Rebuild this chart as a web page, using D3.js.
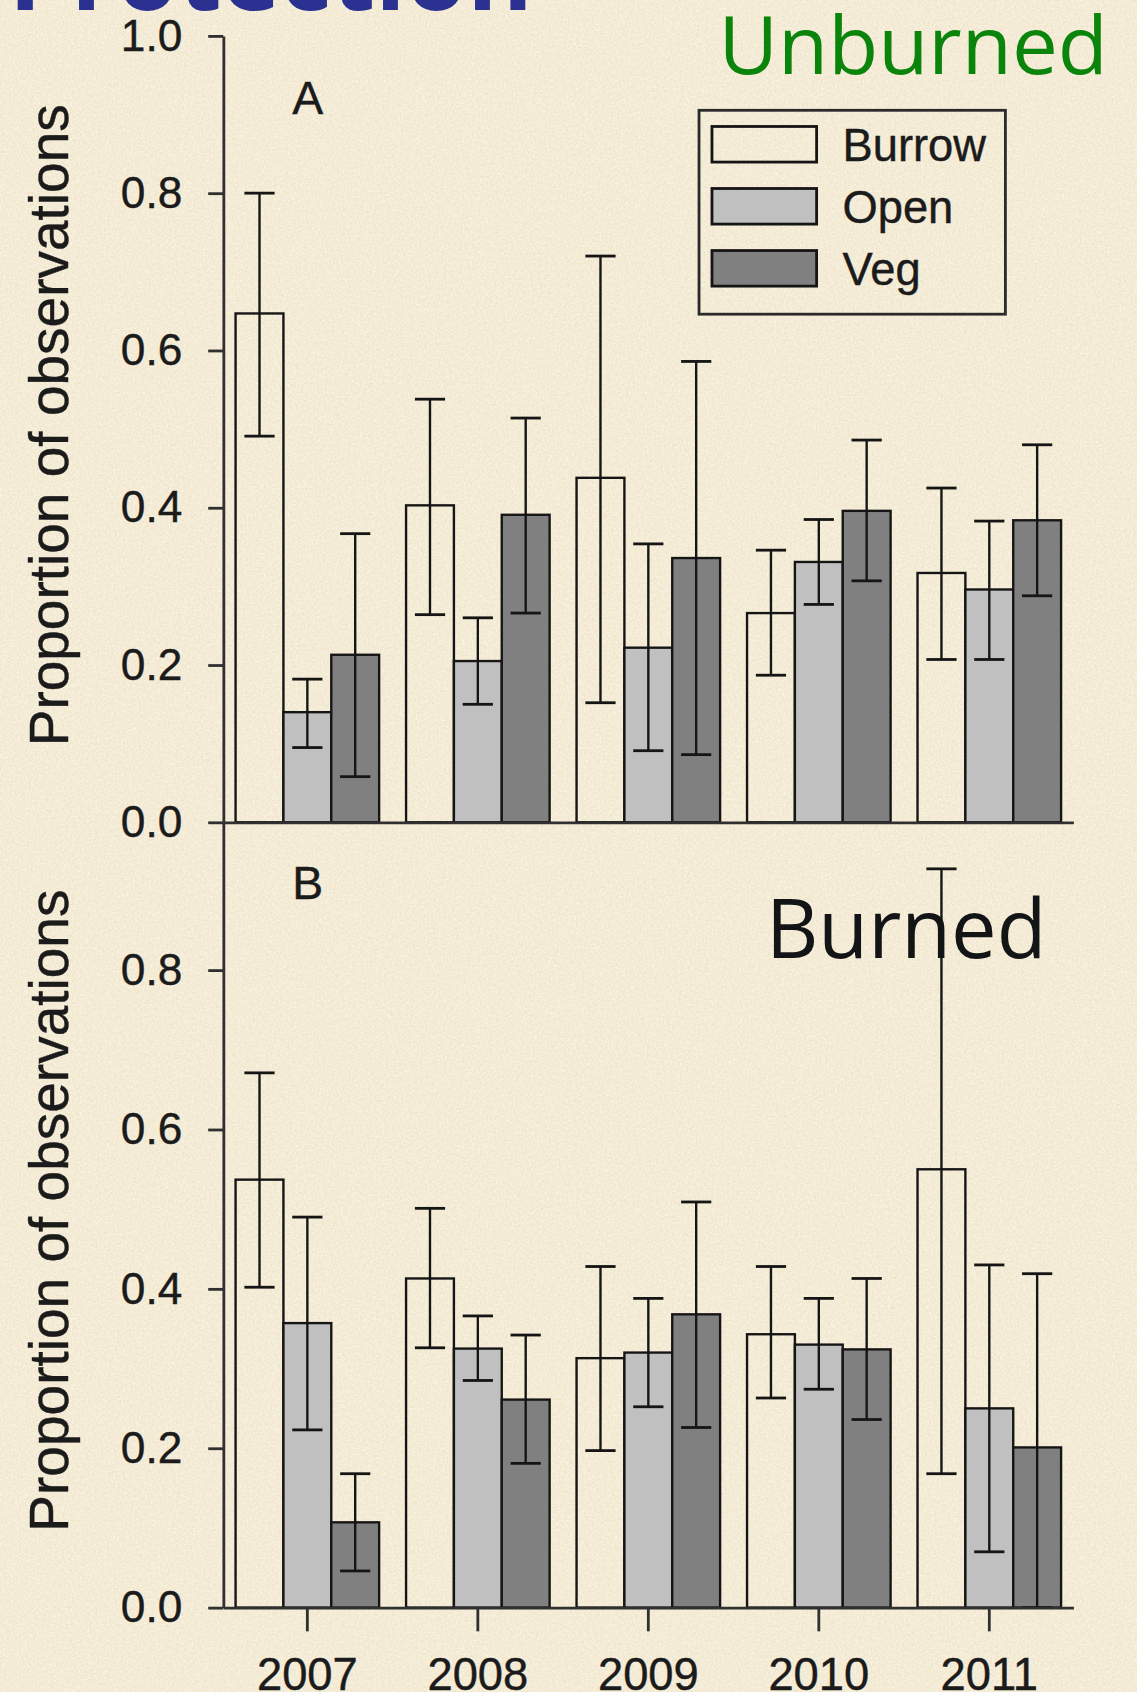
<!DOCTYPE html>
<html>
<head>
<meta charset="utf-8">
<script src="https://cdn.jsdelivr.net/npm/d3@7"></script>
<style>
  html, body { margin: 0; padding: 0; background: #f1e7cd; }
  svg { display: block; }
  .axis path, .axis line { stroke: #303030; stroke-width: 2.6; }
  .axis text { font-family: "Liberation Sans", Arial, sans-serif; fill: #1b1b1b; stroke: #1b1b1b; stroke-width: 0.4; }
</style>
</head>
<body>
<div id="chart"></div>
<script>
// values: one row per year, columns Burrow / Open / Veg
var years = ["2007", "2008", "2009", "2010", "2011"];
var series = ["Burrow", "Open", "Veg"];
var seriesFill = ["none", "#c0c0c0", "#808080"];

var unburnedMean = [[0.647, 0.140, 0.213], [0.403, 0.205, 0.391], [0.438, 0.222, 0.336], [0.266, 0.331, 0.396], [0.317, 0.296, 0.384]];
var unburnedLow  = [[0.491, 0.095, 0.058], [0.264, 0.150, 0.266], [0.152, 0.091, 0.086], [0.187, 0.277, 0.307], [0.207, 0.207, 0.288]];
var unburnedHigh = [[0.800, 0.182, 0.367], [0.538, 0.260, 0.514], [0.720, 0.354, 0.586], [0.346, 0.385, 0.486], [0.425, 0.383, 0.480]];

var burnedMean = [[0.537, 0.357, 0.107], [0.413, 0.325, 0.261], [0.313, 0.320, 0.368], [0.343, 0.330, 0.324], [0.550, 0.250, 0.201]];
var burnedLow  = [[0.402, 0.223, 0.046], [0.326, 0.285, 0.181], [0.197, 0.252, 0.226], [0.263, 0.274, 0.236], [0.168, 0.070, 0.000]];
var burnedHigh = [[0.671, 0.490, 0.168], [0.501, 0.366, 0.342], [0.428, 0.388, 0.509], [0.428, 0.388, 0.413], [0.927, 0.430, 0.419]];

var topTicks = [0, 0.2, 0.4, 0.6, 0.8, 1.0];
var bottomTicks = [0, 0.2, 0.4, 0.6, 0.8];

// drawing space is the 1054x1568 layout, scaled up to the window
var W = 1054, H = 1568;

var svg = d3.select("#chart").append("svg")
    .attr("width", 1137)
    .attr("height", 1692)
    .attr("viewBox", "0 0 " + W + " " + H);

// paper background
var defs = svg.append("defs");
var f1 = defs.append("filter").attr("id", "grain").attr("x", 0).attr("y", 0).attr("width", 1).attr("height", 1);
f1.append("feTurbulence").attr("type", "fractalNoise").attr("baseFrequency", 0.55).attr("numOctaves", 3).attr("seed", 4);
f1.append("feColorMatrix").attr("type", "matrix")
    .attr("values", "0 0 0 0 1  0 0 0 0 0.99  0 0 0 0 0.94  1.9 0 0 0 -0.72");
var f2 = defs.append("filter").attr("id", "grain2").attr("x", 0).attr("y", 0).attr("width", 1).attr("height", 1);
f2.append("feTurbulence").attr("type", "fractalNoise").attr("baseFrequency", 0.35).attr("numOctaves", 2).attr("seed", 11);
f2.append("feColorMatrix").attr("type", "matrix")
    .attr("values", "0 0 0 0 0.74  0 0 0 0 0.66  0 0 0 0 0.48  1.6 0 0 0 -0.74");

svg.append("rect").attr("width", W).attr("height", H).attr("fill", "#f3e9d1");
svg.append("rect").attr("width", W).attr("height", H).attr("filter", "url(#grain2)").attr("opacity", 0.4);
svg.append("rect").attr("width", W).attr("height", H).attr("filter", "url(#grain)").attr("opacity", 0.65);

// scales
var x = d3.scaleBand().domain(years).range([207, 995]).paddingInner(0.158).paddingOuter(0.072);
var xs = d3.scaleBand().domain(series).range([0, x.bandwidth()]);

var yTop = d3.scaleLinear().domain([0, 1]).range([762, 33]);
var yBottom = d3.scaleLinear().domain([0, 0.8]).range([1490, 899]);
// let the bottom axis line run up to the top panel's baseline
yBottom.domain([0, yBottom.invert(762)]).range([1490, 762]);

function panel(y, ticks, mean, low, high, showYears) {
    var g = svg.append("g");

    var groups = g.selectAll(".year")
        .data(years)
        .enter().append("g")
        .attr("transform", function(d) { return "translate(" + x(d) + ",0)"; });

    // bars
    groups.each(function(yr, i) {
        var gg = d3.select(this);
        series.forEach(function(s, j) {
            gg.append("rect")
                .attr("x", xs(s))
                .attr("y", y(mean[i][j]))
                .attr("width", xs.bandwidth())
                .attr("height", y(0) - y(mean[i][j]))
                .attr("fill", seriesFill[j])
                .attr("stroke", "#151515")
                .attr("stroke-width", 2.2);
        });
    });

    // error bars on top
    groups.each(function(yr, i) {
        var gg = d3.select(this);
        series.forEach(function(s, j) {
            var cx = xs(s) + xs.bandwidth() / 2;
            gg.append("line")
                .attr("x1", cx).attr("x2", cx)
                .attr("y1", y(low[i][j])).attr("y2", y(high[i][j]))
                .attr("stroke", "#151515").attr("stroke-width", 2.2);
            [low[i][j], high[i][j]].forEach(function(v) {
                gg.append("line")
                    .attr("x1", cx - 14).attr("x2", cx + 14)
                    .attr("y1", y(v)).attr("y2", y(v))
                    .attr("stroke", "#151515").attr("stroke-width", 2.6);
            });
        });
    });

    // axes
    var xa = d3.axisBottom(x);
    if (showYears) {
        xa.tickSize(22).tickPadding(25);
    } else {
        xa.tickValues([]);
    }
    xa.tickSizeOuter(0);
    var gx = g.append("g").attr("class", "axis")
        .attr("transform", "translate(0," + y(0) + ")")
        .call(xa);
    gx.selectAll("text").attr("font-size", 42);

    var gy = g.append("g").attr("class", "axis")
        .attr("transform", "translate(207,0)")
        .call(d3.axisLeft(y).tickValues(ticks).tickSize(14).tickSizeOuter(0).tickPadding(24).tickFormat(d3.format(".1f")));
    gy.selectAll("text").attr("font-size", 41);

    // y label, centred the same distance above each panel's baseline
    var mid = y(0) - 368;
    g.append("text")
        .attr("transform", "translate(63," + mid + ") rotate(-90)")
        .attr("text-anchor", "middle")
        .attr("font-family", "Liberation Sans, Arial, sans-serif")
        .attr("font-size", 51)
        .attr("fill", "#1b1b1b")
        .attr("stroke", "#1b1b1b").attr("stroke-width", 0.4)
        .text("Proportion of observations");
    return g;
}

panel(yTop, topTicks, unburnedMean, unburnedLow, unburnedHigh, false);
panel(yBottom, bottomTicks, burnedMean, burnedLow, burnedHigh, true);

// panel letters
svg.append("text").attr("x", 271).attr("y", 105)
    .attr("font-family", "Liberation Sans, Arial, sans-serif").attr("font-size", 43)
    .attr("fill", "#1b1b1b").attr("stroke", "#1b1b1b").attr("stroke-width", 0.4).text("A");
svg.append("text").attr("x", 271).attr("y", 833)
    .attr("font-family", "Liberation Sans, Arial, sans-serif").attr("font-size", 43)
    .attr("fill", "#1b1b1b").attr("stroke", "#1b1b1b").attr("stroke-width", 0.4).text("B");

// legend
var legend = svg.append("g");
legend.append("rect")
    .attr("x", 648).attr("y", 102).attr("width", 284).attr("height", 189)
    .attr("fill", "none").attr("stroke", "#2a2a2a").attr("stroke-width", 2.6);
series.forEach(function(s, j) {
    var ly = 117 + j * 57.5;
    legend.append("rect")
        .attr("x", 660).attr("y", ly).attr("width", 97).attr("height", 33)
        .attr("fill", seriesFill[j]).attr("stroke", "#151515").attr("stroke-width", 2.6);
    legend.append("text")
        .attr("x", 781).attr("y", ly + 32)
        .attr("font-family", "Liberation Sans, Arial, sans-serif")
        .attr("font-size", 42)
        .attr("fill", "#1b1b1b").attr("stroke", "#1b1b1b").attr("stroke-width", 0.4)
        .text(s);
});

// slide headings
svg.append("text").attr("x", 8).attr("y", 9)
    .attr("font-family", "Open Sans, Noto Sans, sans-serif").attr("font-weight", "bold")
    .attr("font-size", 94).attr("fill", "#2b3190")
    .attr("textLength", 486).attr("lengthAdjust", "spacingAndGlyphs")
    .text("Protection");
svg.append("text").attr("x", 666).attr("y", 68)
    .attr("font-family", "Open Sans, Noto Sans, sans-serif")
    .attr("font-size", 74).attr("fill", "#0a840a")
    .attr("textLength", 361).attr("lengthAdjust", "spacingAndGlyphs")
    .text("Unburned");
svg.append("text").attr("x", 710).attr("y", 888)
    .attr("font-family", "Open Sans, Noto Sans, sans-serif")
    .attr("font-size", 76).attr("fill", "#121416")
    .attr("textLength", 260).attr("lengthAdjust", "spacingAndGlyphs")
    .text("Burned");
</script>
</body>
</html>
